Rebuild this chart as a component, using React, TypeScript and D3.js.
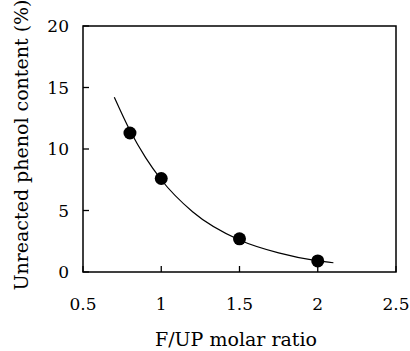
import React from "react";
import * as d3 from "d3";

const xTicks = [0.5, 1, 1.5, 2, 2.5];
const yTicks = [0, 5, 10, 15, 20];
const ratio = [0.8, 1.0, 1.5, 2.0];
const phenol = [11.3, 7.6, 2.7, 0.9];
const curveX = [0.7, 0.8, 0.9, 1.0, 1.2, 1.5, 1.75, 2.0, 2.1];
const curveY = [14.2, 11.5, 9.3, 7.5, 4.9, 2.6, 1.55, 0.9, 0.75];

const W = 410, H = 351;
const m = { left: 83, right: 396, top: 26, bottom: 272 };
const font = "'DejaVu Serif', serif";

export default function App() {
  const x = d3.scaleLinear().domain([0.5, 2.5]).range([m.left, m.right]);
  const y = d3.scaleLinear().domain([0, 20]).range([m.bottom, m.top]);
  const line = d3
    .line<number>()
    .x((_, i) => x(curveX[i]))
    .y((d) => y(d))
    .curve(d3.curveMonotoneX);
  return (
    <svg width={W} height={H} style={{ position: "absolute", left: 0, top: 0, background: "#fff" }}>
      <rect x={m.left} y={m.top} width={m.right - m.left} height={m.bottom - m.top} fill="none" stroke="#000" strokeWidth={1.5} />
      {yTicks.map((t) => (
        <g key={"y" + t}>
          <line x1={m.left} x2={m.left + 6} y1={y(t)} y2={y(t)} stroke="#000" strokeWidth={1.3} />
          <text x={69} y={y(t)} dy="0.36em" textAnchor="end" fontFamily={font} fontSize={17}>{t}</text>
        </g>
      ))}
      {xTicks.map((t) => (
        <g key={"x" + t}>
          <line x1={x(t)} x2={x(t)} y1={m.bottom} y2={m.bottom - 6} stroke="#000" strokeWidth={1.3} />
          <text x={x(t)} y={310} textAnchor="middle" fontFamily={font} fontSize={17}>{t}</text>
        </g>
      ))}
      <path d={line(curveY) || ""} fill="none" stroke="#000" strokeWidth={1.2} />
      {ratio.map((r, i) => (
        <circle key={i} cx={x(r)} cy={y(phenol[i])} r={6.5} fill="#000" />
      ))}
      <text x={236} y={346} textAnchor="middle" fontFamily={font} fontSize={19}>F/UP molar ratio</text>
      <text transform={`translate(28,145) rotate(-90)`} textAnchor="middle" fontFamily={font} fontSize={19}>Unreacted phenol content (%)</text>
    </svg>
  );
}
